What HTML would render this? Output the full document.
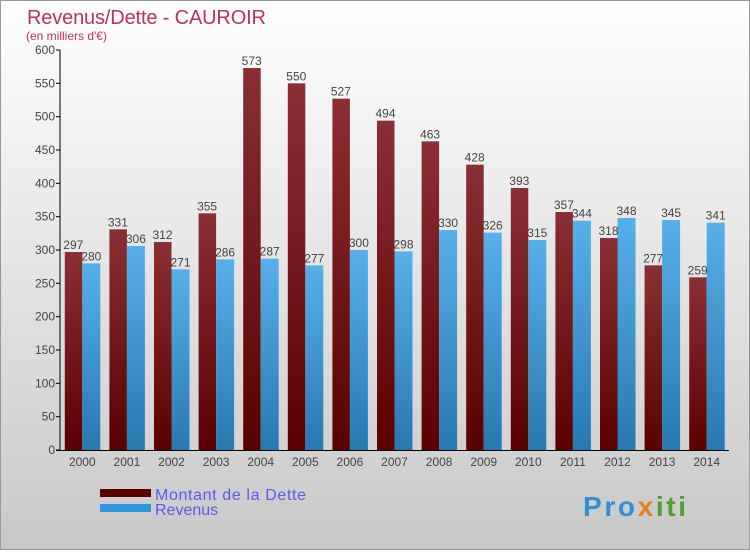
<!DOCTYPE html>
<html><head><meta charset="utf-8"><style>
body{margin:0;width:750px;height:550px;overflow:hidden;font-family:"Liberation Sans",sans-serif}
</style></head><body>
<svg width="750" height="550" xmlns="http://www.w3.org/2000/svg">
<defs>
<linearGradient id="bg" x1="0" y1="0" x2="0" y2="1"><stop offset="0" stop-color="#ffffff"/><stop offset="1" stop-color="#c8c8c8"/></linearGradient>
<linearGradient id="gd" x1="0" y1="0" x2="0" y2="1"><stop offset="0" stop-color="#8a3034"/><stop offset="1" stop-color="#5a0000"/></linearGradient>
<linearGradient id="gr" x1="0" y1="0" x2="0" y2="1"><stop offset="0" stop-color="#58b0e8"/><stop offset="1" stop-color="#2878b0"/></linearGradient>
</defs>
<rect x="0.5" y="0.5" width="749" height="549" fill="url(#bg)" stroke="#999"/>
<text x="27" y="24" font-size="20" fill="#c0305a" textLength="239">Revenus/Dette - CAUROIR</text>
<text x="26" y="40" font-size="12" fill="#c0305a">(en milliers d'€)</text>
<g id="plot"></g>
<g>
<rect x="100" y="489" width="51" height="8" fill="#5a0000"/>
<rect x="100" y="504" width="51" height="8" fill="#3098e0"/>
<text x="155" y="500" font-size="16" fill="#5a5af0" textLength="151">Montant de la Dette</text>
<text x="155" y="515" font-size="16" fill="#5a5af0">Revenus</text>
</g>
<text x="583" y="516" font-size="28" font-weight="bold" fill="#3090d0" textLength="103">Pro<tspan fill="#e08020">x</tspan><tspan fill="#50a030">iti</tspan></text>
</svg>
<script>
const years=["2000","2001","2002","2003","2004","2005","2006","2007","2008","2009","2010","2011","2012","2013","2014"];
const dette=[297,331,312,355,573,550,527,494,463,428,393,357,318,277,259];
const revenus=[280,306,271,286,287,277,300,298,330,326,315,344,348,345,341];
const ticks=[0,50,100,150,200,250,300,350,400,450,500,550,600];
const NS="http://www.w3.org/2000/svg";
const g=document.getElementById('plot');
const x0=60,step=44.6,yb=450,yt=50,vmax=600;
const y=v=>yb-(yb-yt)*v/vmax;
function mk(t,a,txt){const e=document.createElementNS(NS,t);for(const k in a)e.setAttribute(k,a[k]);if(txt!=null)e.textContent=txt;g.appendChild(e);return e;}
ticks.forEach(t=>{
 const l=mk('line',{x1:56,x2:60,y1:y(t),y2:y(t),stroke:'#000'});
 
 
 const tx=mk('text',{x:55,y:y(t)+4,'font-size':12,fill:'#444','text-anchor':'end'},t);
 
 
});
years.forEach((yr,i)=>{
 const c=x0+step*(i+0.5);
 const b1=mk('rect',{x:c-17.5,y:y(dette[i]),width:17.5,height:yb-y(dette[i]),fill:'url(#gd)'});
 
 
 const b2=mk('rect',{x:c,y:y(revenus[i]),width:18,height:yb-y(revenus[i]),fill:'url(#gr)'});
 
 
 const v1=mk('text',{x:c-9,y:y(dette[i])-3,'font-size':12,fill:'#444','text-anchor':'middle'},dette[i]);
 
 
 const v2=mk('text',{x:c+9,y:y(revenus[i])-3,'font-size':12,fill:'#444','text-anchor':'middle'},revenus[i]);
 
 
 const xl=mk('text',{x:c,y:466,'font-size':12,fill:'#444','text-anchor':'middle'},yr);
 
 
});
const ax=mk('line',{x1:60,x2:60,y1:50,y2:450,stroke:'#000'});


const bx=mk('line',{x1:56,x2:729,y1:450.5,y2:450.5,stroke:'#000'});


</script>
</body></html>
